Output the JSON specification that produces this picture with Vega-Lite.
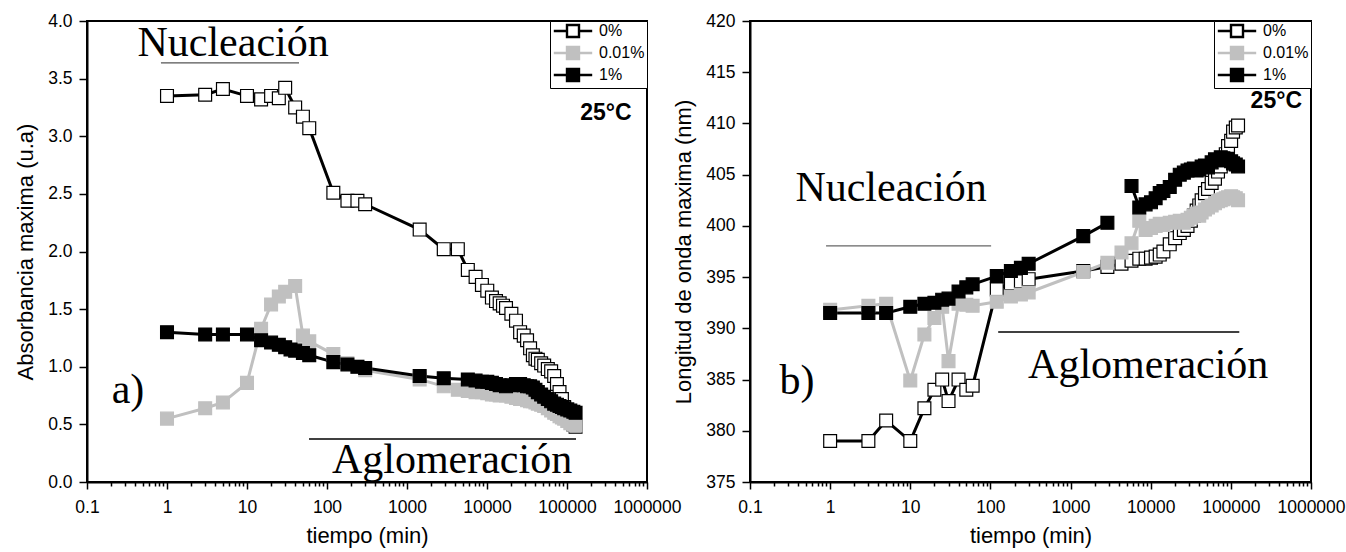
{
  "$schema": "https://vega.github.io/schema/vega-lite/v6.json",
  "padding": {"left": 13, "top": 11, "right": 0, "bottom": 0},
  "background": "white",
  "spacing": -12,
  "datasets": {
    "left": [
      {"t":1,"v":3.35,"s":"0%","g":1},{"t":3,"v":3.36,"s":"0%","g":1},{"t":5,"v":3.41,"s":"0%","g":1},{"t":10,"v":3.35,"s":"0%","g":1},{"t":15,"v":3.32,"s":"0%","g":1},{"t":20,"v":3.35,"s":"0%","g":1},{"t":25,"v":3.33,"s":"0%","g":1},{"t":30,"v":3.42,"s":"0%","g":1},{"t":40,"v":3.25,"s":"0%","g":1},{"t":50,"v":3.17,"s":"0%","g":1},{"t":60,"v":3.07,"s":"0%","g":1},{"t":120,"v":2.51,"s":"0%","g":1},{"t":180,"v":2.44,"s":"0%","g":1},{"t":240,"v":2.44,"s":"0%","g":1},{"t":300,"v":2.41,"s":"0%","g":1},{"t":1440,"v":2.19,"s":"0%","g":1},{"t":2880,"v":2.02,"s":"0%","g":1},{"t":4320,"v":2.02,"s":"0%","g":1},{"t":5760,"v":1.84,"s":"0%","g":1},{"t":7200,"v":1.78,"s":"0%","g":1},{"t":8640,"v":1.71,"s":"0%","g":1},{"t":10080,"v":1.66,"s":"0%","g":1},{"t":11520,"v":1.60,"s":"0%","g":1},{"t":12960,"v":1.57,"s":"0%","g":1},{"t":14400,"v":1.55,"s":"0%","g":1},{"t":15840,"v":1.53,"s":"0%","g":1},{"t":17280,"v":1.51,"s":"0%","g":1},{"t":20160,"v":1.46,"s":"0%","g":1},{"t":23040,"v":1.40,"s":"0%","g":1},{"t":25920,"v":1.30,"s":"0%","g":1},{"t":28800,"v":1.27,"s":"0%","g":1},{"t":31680,"v":1.23,"s":"0%","g":1},{"t":34560,"v":1.16,"s":"0%","g":1},{"t":37440,"v":1.10,"s":"0%","g":1},{"t":40320,"v":1.07,"s":"0%","g":1},{"t":43200,"v":1.06,"s":"0%","g":1},{"t":47520,"v":1.03,"s":"0%","g":1},{"t":51840,"v":1.01,"s":"0%","g":1},{"t":57600,"v":0.98,"s":"0%","g":1},{"t":63360,"v":0.96,"s":"0%","g":1},{"t":69120,"v":0.92,"s":"0%","g":1},{"t":74880,"v":0.85,"s":"0%","g":1},{"t":80640,"v":0.78,"s":"0%","g":1},{"t":86400,"v":0.72,"s":"0%","g":1},{"t":92160,"v":0.65,"s":"0%","g":1},{"t":100800,"v":0.58,"s":"0%","g":1},{"t":110000,"v":0.53,"s":"0%","g":1},{"t":120000,"v":0.50,"s":"0%","g":1},{"t":128000,"v":0.48,"s":"0%","g":1},
      {"t":1,"v":0.55,"s":"0.01%","g":1},{"t":3,"v":0.64,"s":"0.01%","g":1},{"t":5,"v":0.69,"s":"0.01%","g":1},{"t":10,"v":0.86,"s":"0.01%","g":1},{"t":15,"v":1.33,"s":"0.01%","g":1},{"t":20,"v":1.54,"s":"0.01%","g":1},{"t":25,"v":1.61,"s":"0.01%","g":1},{"t":30,"v":1.65,"s":"0.01%","g":1},{"t":40,"v":1.70,"s":"0.01%","g":1},{"t":50,"v":1.27,"s":"0.01%","g":1},{"t":60,"v":1.22,"s":"0.01%","g":1},{"t":120,"v":1.11,"s":"0.01%","g":1},{"t":180,"v":1.03,"s":"0.01%","g":1},{"t":240,"v":1.00,"s":"0.01%","g":1},{"t":300,"v":0.97,"s":"0.01%","g":1},{"t":1440,"v":0.89,"s":"0.01%","g":1},{"t":2880,"v":0.83,"s":"0.01%","g":1},{"t":4320,"v":0.80,"s":"0.01%","g":1},{"t":5760,"v":0.79,"s":"0.01%","g":1},{"t":7200,"v":0.78,"s":"0.01%","g":1},{"t":8640,"v":0.78,"s":"0.01%","g":1},{"t":10080,"v":0.77,"s":"0.01%","g":1},{"t":11520,"v":0.76,"s":"0.01%","g":1},{"t":12960,"v":0.76,"s":"0.01%","g":1},{"t":14400,"v":0.75,"s":"0.01%","g":1},{"t":17280,"v":0.75,"s":"0.01%","g":1},{"t":20160,"v":0.74,"s":"0.01%","g":1},{"t":23040,"v":0.73,"s":"0.01%","g":1},{"t":25920,"v":0.72,"s":"0.01%","g":1},{"t":28800,"v":0.72,"s":"0.01%","g":1},{"t":31680,"v":0.71,"s":"0.01%","g":1},{"t":34560,"v":0.70,"s":"0.01%","g":1},{"t":37440,"v":0.70,"s":"0.01%","g":1},{"t":40320,"v":0.69,"s":"0.01%","g":1},{"t":43200,"v":0.68,"s":"0.01%","g":1},{"t":47520,"v":0.67,"s":"0.01%","g":1},{"t":51840,"v":0.66,"s":"0.01%","g":1},{"t":57600,"v":0.64,"s":"0.01%","g":1},{"t":63360,"v":0.62,"s":"0.01%","g":1},{"t":69120,"v":0.60,"s":"0.01%","g":1},{"t":74880,"v":0.59,"s":"0.01%","g":1},{"t":80640,"v":0.57,"s":"0.01%","g":1},{"t":86400,"v":0.56,"s":"0.01%","g":1},{"t":92160,"v":0.55,"s":"0.01%","g":1},{"t":100800,"v":0.53,"s":"0.01%","g":1},{"t":110000,"v":0.51,"s":"0.01%","g":1},{"t":120000,"v":0.50,"s":"0.01%","g":1},{"t":128000,"v":0.49,"s":"0.01%","g":1},
      {"t":1,"v":1.30,"s":"1%","g":1},{"t":3,"v":1.28,"s":"1%","g":1},{"t":5,"v":1.28,"s":"1%","g":1},{"t":10,"v":1.28,"s":"1%","g":1},{"t":15,"v":1.23,"s":"1%","g":1},{"t":20,"v":1.21,"s":"1%","g":1},{"t":25,"v":1.19,"s":"1%","g":1},{"t":30,"v":1.17,"s":"1%","g":1},{"t":35,"v":1.15,"s":"1%","g":1},{"t":40,"v":1.14,"s":"1%","g":1},{"t":50,"v":1.12,"s":"1%","g":1},{"t":60,"v":1.10,"s":"1%","g":1},{"t":120,"v":1.04,"s":"1%","g":1},{"t":180,"v":1.02,"s":"1%","g":1},{"t":240,"v":1.00,"s":"1%","g":1},{"t":300,"v":0.99,"s":"1%","g":1},{"t":1440,"v":0.92,"s":"1%","g":1},{"t":2880,"v":0.90,"s":"1%","g":1},{"t":5760,"v":0.89,"s":"1%","g":1},{"t":7200,"v":0.88,"s":"1%","g":1},{"t":8640,"v":0.87,"s":"1%","g":1},{"t":10080,"v":0.87,"s":"1%","g":1},{"t":11520,"v":0.86,"s":"1%","g":1},{"t":12960,"v":0.85,"s":"1%","g":1},{"t":14400,"v":0.84,"s":"1%","g":1},{"t":17280,"v":0.83,"s":"1%","g":1},{"t":20160,"v":0.84,"s":"1%","g":1},{"t":23040,"v":0.85,"s":"1%","g":1},{"t":25920,"v":0.85,"s":"1%","g":1},{"t":28800,"v":0.84,"s":"1%","g":1},{"t":31680,"v":0.83,"s":"1%","g":1},{"t":34560,"v":0.83,"s":"1%","g":1},{"t":37440,"v":0.82,"s":"1%","g":1},{"t":40320,"v":0.80,"s":"1%","g":1},{"t":43200,"v":0.78,"s":"1%","g":1},{"t":47520,"v":0.76,"s":"1%","g":1},{"t":51840,"v":0.74,"s":"1%","g":1},{"t":57600,"v":0.72,"s":"1%","g":1},{"t":63360,"v":0.70,"s":"1%","g":1},{"t":69120,"v":0.68,"s":"1%","g":1},{"t":74880,"v":0.67,"s":"1%","g":1},{"t":80640,"v":0.66,"s":"1%","g":1},{"t":86400,"v":0.65,"s":"1%","g":1},{"t":92160,"v":0.64,"s":"1%","g":1},{"t":100800,"v":0.63,"s":"1%","g":1},{"t":110000,"v":0.62,"s":"1%","g":1},{"t":120000,"v":0.61,"s":"1%","g":1},{"t":128000,"v":0.60,"s":"1%","g":1}
    ],
    "right": [
      {"t":1,"v":379.0,"s":"0%","g":1},{"t":3,"v":379.0,"s":"0%","g":1},{"t":5,"v":381.0,"s":"0%","g":1},{"t":10,"v":379.0,"s":"0%","g":1},{"t":15,"v":382.2,"s":"0%","g":1},{"t":20,"v":384.0,"s":"0%","g":1},{"t":25,"v":385.0,"s":"0%","g":1},{"t":30,"v":382.9,"s":"0%","g":1},{"t":40,"v":385.0,"s":"0%","g":1},{"t":50,"v":384.0,"s":"0%","g":1},{"t":60,"v":384.4,"s":"0%","g":1},{"t":120,"v":393.8,"s":"0%","g":1},{"t":180,"v":394.4,"s":"0%","g":1},{"t":240,"v":394.6,"s":"0%","g":1},{"t":300,"v":394.8,"s":"0%","g":1},{"t":1440,"v":395.6,"s":"0%","g":1},{"t":2880,"v":396.0,"s":"0%","g":1},{"t":4320,"v":396.3,"s":"0%","g":1},{"t":5760,"v":396.6,"s":"0%","g":1},{"t":7200,"v":396.8,"s":"0%","g":1},{"t":8640,"v":396.8,"s":"0%","g":1},{"t":10080,"v":396.9,"s":"0%","g":1},{"t":11520,"v":397.0,"s":"0%","g":1},{"t":12960,"v":397.2,"s":"0%","g":1},{"t":14400,"v":397.5,"s":"0%","g":1},{"t":17280,"v":398.2,"s":"0%","g":1},{"t":20160,"v":398.8,"s":"0%","g":1},{"t":23040,"v":399.3,"s":"0%","g":1},{"t":25920,"v":399.6,"s":"0%","g":1},{"t":28800,"v":400.0,"s":"0%","g":1},{"t":31680,"v":400.5,"s":"0%","g":1},{"t":34560,"v":401.0,"s":"0%","g":1},{"t":37440,"v":401.5,"s":"0%","g":1},{"t":40320,"v":402.0,"s":"0%","g":1},{"t":43200,"v":402.5,"s":"0%","g":1},{"t":47520,"v":403.2,"s":"0%","g":1},{"t":51840,"v":403.6,"s":"0%","g":1},{"t":57600,"v":404.2,"s":"0%","g":1},{"t":63360,"v":404.6,"s":"0%","g":1},{"t":69120,"v":405.3,"s":"0%","g":1},{"t":74880,"v":405.8,"s":"0%","g":1},{"t":80640,"v":406.5,"s":"0%","g":1},{"t":86400,"v":407.0,"s":"0%","g":1},{"t":92160,"v":407.8,"s":"0%","g":1},{"t":100800,"v":408.3,"s":"0%","g":1},{"t":106560,"v":409.2,"s":"0%","g":1},{"t":115200,"v":409.6,"s":"0%","g":1},{"t":123000,"v":409.8,"s":"0%","g":1},
      {"t":1,"v":391.8,"s":"0.01%","g":1},{"t":3,"v":392.2,"s":"0.01%","g":1},{"t":5,"v":392.4,"s":"0.01%","g":1},{"t":10,"v":384.9,"s":"0.01%","g":1},{"t":15,"v":389.4,"s":"0.01%","g":1},{"t":20,"v":391.0,"s":"0.01%","g":1},{"t":25,"v":392.1,"s":"0.01%","g":1},{"t":30,"v":386.8,"s":"0.01%","g":1},{"t":40,"v":392.4,"s":"0.01%","g":1},{"t":50,"v":392.3,"s":"0.01%","g":1},{"t":60,"v":392.2,"s":"0.01%","g":1},{"t":120,"v":392.6,"s":"0.01%","g":1},{"t":180,"v":393.1,"s":"0.01%","g":1},{"t":240,"v":393.3,"s":"0.01%","g":1},{"t":300,"v":393.5,"s":"0.01%","g":1},{"t":1440,"v":395.5,"s":"0.01%","g":1},{"t":2880,"v":396.4,"s":"0.01%","g":1},{"t":4320,"v":397.4,"s":"0.01%","g":1},{"t":5760,"v":398.3,"s":"0.01%","g":1},{"t":7200,"v":400.5,"s":"0.01%","g":1},{"t":8640,"v":399.6,"s":"0.01%","g":1},{"t":10080,"v":399.8,"s":"0.01%","g":1},{"t":11520,"v":400.0,"s":"0.01%","g":1},{"t":12960,"v":400.2,"s":"0.01%","g":1},{"t":14400,"v":400.1,"s":"0.01%","g":1},{"t":17280,"v":400.3,"s":"0.01%","g":1},{"t":20160,"v":400.4,"s":"0.01%","g":1},{"t":23040,"v":400.5,"s":"0.01%","g":1},{"t":25920,"v":400.3,"s":"0.01%","g":1},{"t":28800,"v":400.6,"s":"0.01%","g":1},{"t":31680,"v":400.8,"s":"0.01%","g":1},{"t":34560,"v":401.0,"s":"0.01%","g":1},{"t":37440,"v":401.2,"s":"0.01%","g":1},{"t":40320,"v":401.0,"s":"0.01%","g":1},{"t":43200,"v":401.3,"s":"0.01%","g":1},{"t":47520,"v":401.6,"s":"0.01%","g":1},{"t":51840,"v":401.8,"s":"0.01%","g":1},{"t":57600,"v":402.0,"s":"0.01%","g":1},{"t":63360,"v":402.2,"s":"0.01%","g":1},{"t":69120,"v":402.4,"s":"0.01%","g":1},{"t":74880,"v":402.5,"s":"0.01%","g":1},{"t":80640,"v":402.6,"s":"0.01%","g":1},{"t":86400,"v":402.7,"s":"0.01%","g":1},{"t":92160,"v":402.8,"s":"0.01%","g":1},{"t":100800,"v":402.9,"s":"0.01%","g":1},{"t":106560,"v":402.8,"s":"0.01%","g":1},{"t":115200,"v":402.7,"s":"0.01%","g":1},{"t":123000,"v":402.5,"s":"0.01%","g":1},
      {"t":1,"v":391.5,"s":"1%","g":1},{"t":3,"v":391.5,"s":"1%","g":1},{"t":5,"v":391.5,"s":"1%","g":1},{"t":10,"v":392.1,"s":"1%","g":1},{"t":15,"v":392.4,"s":"1%","g":1},{"t":20,"v":392.5,"s":"1%","g":1},{"t":25,"v":392.8,"s":"1%","g":1},{"t":30,"v":392.9,"s":"1%","g":1},{"t":40,"v":393.6,"s":"1%","g":1},{"t":50,"v":394.0,"s":"1%","g":1},{"t":60,"v":394.3,"s":"1%","g":1},{"t":120,"v":395.1,"s":"1%","g":1},{"t":180,"v":395.6,"s":"1%","g":1},{"t":240,"v":395.9,"s":"1%","g":1},{"t":300,"v":396.3,"s":"1%","g":1},{"t":1440,"v":399.0,"s":"1%","g":1},{"t":2880,"v":400.3,"s":"1%","g":1},
      {"t":5760,"v":403.9,"s":"1%","g":2},{"t":7200,"v":401.8,"s":"1%","g":2},{"t":8640,"v":402.1,"s":"1%","g":2},{"t":10080,"v":402.3,"s":"1%","g":2},{"t":11520,"v":402.7,"s":"1%","g":2},{"t":12960,"v":403.2,"s":"1%","g":2},{"t":14400,"v":403.4,"s":"1%","g":2},{"t":17280,"v":403.8,"s":"1%","g":2},{"t":20160,"v":404.5,"s":"1%","g":2},{"t":23040,"v":405.0,"s":"1%","g":2},{"t":25920,"v":405.2,"s":"1%","g":2},{"t":28800,"v":405.4,"s":"1%","g":2},{"t":31680,"v":405.5,"s":"1%","g":2},{"t":34560,"v":405.6,"s":"1%","g":2},{"t":37440,"v":405.4,"s":"1%","g":2},{"t":40320,"v":405.5,"s":"1%","g":2},{"t":43200,"v":405.8,"s":"1%","g":2},{"t":47520,"v":405.9,"s":"1%","g":2},{"t":51840,"v":405.7,"s":"1%","g":2},{"t":57600,"v":406.2,"s":"1%","g":2},{"t":63360,"v":406.5,"s":"1%","g":2},{"t":69120,"v":406.4,"s":"1%","g":2},{"t":74880,"v":406.7,"s":"1%","g":2},{"t":80640,"v":406.6,"s":"1%","g":2},{"t":86400,"v":406.4,"s":"1%","g":2},{"t":92160,"v":406.5,"s":"1%","g":2},{"t":100800,"v":406.3,"s":"1%","g":2},{"t":106560,"v":406.1,"s":"1%","g":2},{"t":115200,"v":406.0,"s":"1%","g":2},{"t":123000,"v":405.8,"s":"1%","g":2}
    ],
    "leftText": [{"t":6.7,"v":3.696,"label":"Nucleación"},{"t":0.325,"v":0.685,"label":"a)"},{"t":3652,"v":0.078,"label":"Aglomeración"}],
    "leftBold": [{"t":307000,"v":3.2,"label":"25°C"}],
    "leftRules": [{"t":0.84,"t2":44.7,"v":3.636,"c":"a"},{"t":59.6,"t2":129600,"v":0.373,"c":"b"}],
    "rightText": [{"t":5.75,"v":402.43,"label":"Nucleación"},{"t":0.386,"v":383.59,"label":"b)"},{"t":9310,"v":385.15,"label":"Aglomeración"}],
    "rightBold": [{"t":369000,"v":412.19,"label":"25°C"}],
    "rightRules": [{"t":0.889,"t2":102,"v":398.04,"c":"a"},{"t":125,"t2":127400,"v":389.64,"c":"b"}]
  },
  "hconcat": [
    {
      "width": 560,
      "height": 461,
      "layer": [
        {
          "data": {"name": "leftRules"},
          "mark": {"type": "rule", "strokeWidth": 1.3},
          "encoding": {
            "x": {"field": "t", "type": "quantitative", "scale": {"type": "log", "domain": [0.1, 1000000]}},
            "x2": {"field": "t2"},
            "y": {"field": "v", "type": "quantitative", "scale": {"domain": [0, 4]}},
            "color": {"field": "c", "type": "nominal", "scale": {"domain": ["a", "b"], "range": ["#555555", "#000000"]}, "legend": null}
          }
        },
        {
          "data": {"name": "left"},
          "mark": {"type": "line", "strokeWidth": 3},
          "encoding": {
            "x": {"field": "t", "type": "quantitative", "scale": {"type": "log", "domain": [0.1, 1000000]},
              "axis": {"title": "tiempo (min)",
                "values": [0.1,0.2,0.3,0.4,0.5,0.6,0.7,0.8,0.9,1,2,3,4,5,6,7,8,9,10,20,30,40,50,60,70,80,90,100,200,300,400,500,600,700,800,900,1000,2000,3000,4000,5000,6000,7000,8000,9000,10000,20000,30000,40000,50000,60000,70000,80000,90000,100000,200000,300000,400000,500000,600000,700000,800000,900000,1000000],
                "labelExpr": "abs(log(datum.value)/LN10 - round(log(datum.value)/LN10)) < 0.01 ? (datum.value < 1 ? '0.1' : format(datum.value, 'd')) : ''",
                "tickSize": {"condition": {"test": "abs(log(datum.value)/LN10 - round(log(datum.value)/LN10)) < 0.01", "value": 7}, "value": 4}}},
            "y": {"field": "v", "type": "quantitative", "scale": {"domain": [0, 4]},
              "axis": {"title": "Absorbancia maxima (u.a)",
                "values": [0,0.25,0.5,0.75,1,1.25,1.5,1.75,2,2.25,2.5,2.75,3,3.25,3.5,3.75,4],
                "labelExpr": "abs(datum.value*2 - round(datum.value*2)) < 0.01 ? format(datum.value, '.1f') : ''",
                "tickSize": {"condition": {"test": "abs(datum.value*2 - round(datum.value*2)) < 0.01", "value": 8}, "value": 4}}},
            "stroke": {"field": "s", "type": "nominal", "sort": ["0%", "0.01%", "1%"], "scale": {"domain": ["0%", "0.01%", "1%"], "range": ["#000000", "#c0c0c0", "#000000"]},
              "legend": {"title": null, "orient": "top-right", "offset": 0, "symbolType": "M-3.2,0H-1M1,0H3.2M-1,-1H1V1H-1Z", "symbolSize": 144, "symbolStrokeWidth": 2.4, "symbolOffset": 13, "labelOffset": 18}},
            "detail": {"field": "g", "type": "nominal"}
          }
        },
        {
          "data": {"name": "left"},
          "mark": {"type": "point", "shape": "square", "size": 165, "strokeWidth": 1.2, "opacity": 1, "filled": true},
          "encoding": {
            "x": {"field": "t", "type": "quantitative"},
            "y": {"field": "v", "type": "quantitative"},
            "fill": {"field": "s", "type": "nominal", "sort": ["0%", "0.01%", "1%"], "scale": {"domain": ["0%", "0.01%", "1%"], "range": ["#ffffff", "#c0c0c0", "#000000"]},
              "legend": {"title": null, "orient": "top-right", "offset": 0, "symbolType": "M-3.2,0H-1M1,0H3.2M-1,-1H1V1H-1Z", "symbolSize": 144, "symbolStrokeWidth": 2.4, "symbolOffset": 13, "labelOffset": 18}},
            "stroke": {"field": "s", "type": "nominal"}
          }
        },
        {
          "data": {"name": "leftText"},
          "mark": {"type": "text", "font": "Liberation Serif", "fontSize": 42, "align": "center", "baseline": "alphabetic", "color": "black"},
          "encoding": {
            "x": {"field": "t", "type": "quantitative"},
            "y": {"field": "v", "type": "quantitative"},
            "text": {"field": "label"}
          }
        },
        {
          "data": {"name": "leftBold"},
          "mark": {"type": "text", "font": "Liberation Sans", "fontSize": 23, "fontWeight": "bold", "align": "center", "baseline": "middle", "color": "black"},
          "encoding": {
            "x": {"field": "t", "type": "quantitative"},
            "y": {"field": "v", "type": "quantitative"},
            "text": {"field": "label"}
          }
        }
      ]
    },
    {
      "width": 561,
      "height": 461,
      "layer": [
        {
          "data": {"name": "rightRules"},
          "mark": {"type": "rule", "strokeWidth": 1.3},
          "encoding": {
            "x": {"field": "t", "type": "quantitative", "scale": {"type": "log", "domain": [0.1, 1000000]}},
            "x2": {"field": "t2"},
            "y": {"field": "v", "type": "quantitative", "scale": {"domain": [375, 420]}},
            "color": {"field": "c", "type": "nominal", "scale": {"domain": ["a", "b"], "range": ["#666666", "#000000"]}, "legend": null}
          }
        },
        {
          "data": {"name": "right"},
          "mark": {"type": "line", "strokeWidth": 3},
          "encoding": {
            "x": {"field": "t", "type": "quantitative", "scale": {"type": "log", "domain": [0.1, 1000000]},
              "axis": {"title": "tiempo (min)",
                "values": [0.1,0.2,0.3,0.4,0.5,0.6,0.7,0.8,0.9,1,2,3,4,5,6,7,8,9,10,20,30,40,50,60,70,80,90,100,200,300,400,500,600,700,800,900,1000,2000,3000,4000,5000,6000,7000,8000,9000,10000,20000,30000,40000,50000,60000,70000,80000,90000,100000,200000,300000,400000,500000,600000,700000,800000,900000,1000000],
                "labelExpr": "abs(log(datum.value)/LN10 - round(log(datum.value)/LN10)) < 0.01 ? (datum.value < 1 ? '0.1' : format(datum.value, 'd')) : ''",
                "tickSize": {"condition": {"test": "abs(log(datum.value)/LN10 - round(log(datum.value)/LN10)) < 0.01", "value": 7}, "value": 4}}},
            "y": {"field": "v", "type": "quantitative", "scale": {"domain": [375, 420]},
              "axis": {"title": "Longitud de onda maxima (nm)",
                "values": [375,377.5,380,382.5,385,387.5,390,392.5,395,397.5,400,402.5,405,407.5,410,412.5,415,417.5,420],
                "labelExpr": "datum.value % 5 == 0 ? format(datum.value, 'd') : ''",
                "tickSize": {"condition": {"test": "datum.value % 5 == 0", "value": 8}, "value": 4}}},
            "stroke": {"field": "s", "type": "nominal", "sort": ["0%", "0.01%", "1%"], "scale": {"domain": ["0%", "0.01%", "1%"], "range": ["#000000", "#c0c0c0", "#000000"]},
              "legend": {"title": null, "orient": "top-right", "offset": 0, "symbolType": "M-3.2,0H-1M1,0H3.2M-1,-1H1V1H-1Z", "symbolSize": 144, "symbolStrokeWidth": 2.4, "symbolOffset": 13, "labelOffset": 18}},
            "detail": {"field": "g", "type": "nominal"}
          }
        },
        {
          "data": {"name": "right"},
          "mark": {"type": "point", "shape": "square", "size": 165, "strokeWidth": 1.2, "opacity": 1, "filled": true},
          "encoding": {
            "x": {"field": "t", "type": "quantitative"},
            "y": {"field": "v", "type": "quantitative"},
            "fill": {"field": "s", "type": "nominal", "sort": ["0%", "0.01%", "1%"], "scale": {"domain": ["0%", "0.01%", "1%"], "range": ["#ffffff", "#c0c0c0", "#000000"]},
              "legend": {"title": null, "orient": "top-right", "offset": 0, "symbolType": "M-3.2,0H-1M1,0H3.2M-1,-1H1V1H-1Z", "symbolSize": 144, "symbolStrokeWidth": 2.4, "symbolOffset": 13, "labelOffset": 18}},
            "stroke": {"field": "s", "type": "nominal"}
          }
        },
        {
          "data": {"name": "rightText"},
          "mark": {"type": "text", "font": "Liberation Serif", "fontSize": 42, "align": "center", "baseline": "alphabetic", "color": "black"},
          "encoding": {
            "x": {"field": "t", "type": "quantitative"},
            "y": {"field": "v", "type": "quantitative"},
            "text": {"field": "label"}
          }
        },
        {
          "data": {"name": "rightBold"},
          "mark": {"type": "text", "font": "Liberation Sans", "fontSize": 23, "fontWeight": "bold", "align": "center", "baseline": "middle", "color": "black"},
          "encoding": {
            "x": {"field": "t", "type": "quantitative"},
            "y": {"field": "v", "type": "quantitative"},
            "text": {"field": "label"}
          }
        }
      ],
      "resolve": {"scale": {"color": "independent"}}
    }
  ],
  "resolve": {"scale": {"stroke": "independent", "fill": "independent", "color": "independent", "x": "independent", "y": "independent"}, "legend": {"stroke": "independent", "fill": "independent"}},
  "config": {
    "font": "Liberation Sans",
    "view": {"stroke": "black", "strokeWidth": 2},
    "axis": {"domainColor": "black", "domainWidth": 2, "tickColor": "black", "tickWidth": 1.5, "labelColor": "black", "titleColor": "black", "labelFont": "Liberation Sans", "titleFont": "Liberation Sans", "labelFontSize": 17.5, "titleFontSize": 22, "titleFontWeight": "normal", "grid": false, "labelOverlap": false, "labelFlush": false},
    "axisX": {"labelPadding": 9, "titlePadding": 10},
    "axisY": {"labelPadding": 7, "titlePadding": 10},
    "legend": {"strokeColor": "black", "strokeWidth": 1, "fillColor": "white", "padding": 2, "labelFontSize": 16, "labelFont": "Liberation Sans", "labelColor": "black", "rowPadding": 0, "symbolOpacity": 1}
  }
}
